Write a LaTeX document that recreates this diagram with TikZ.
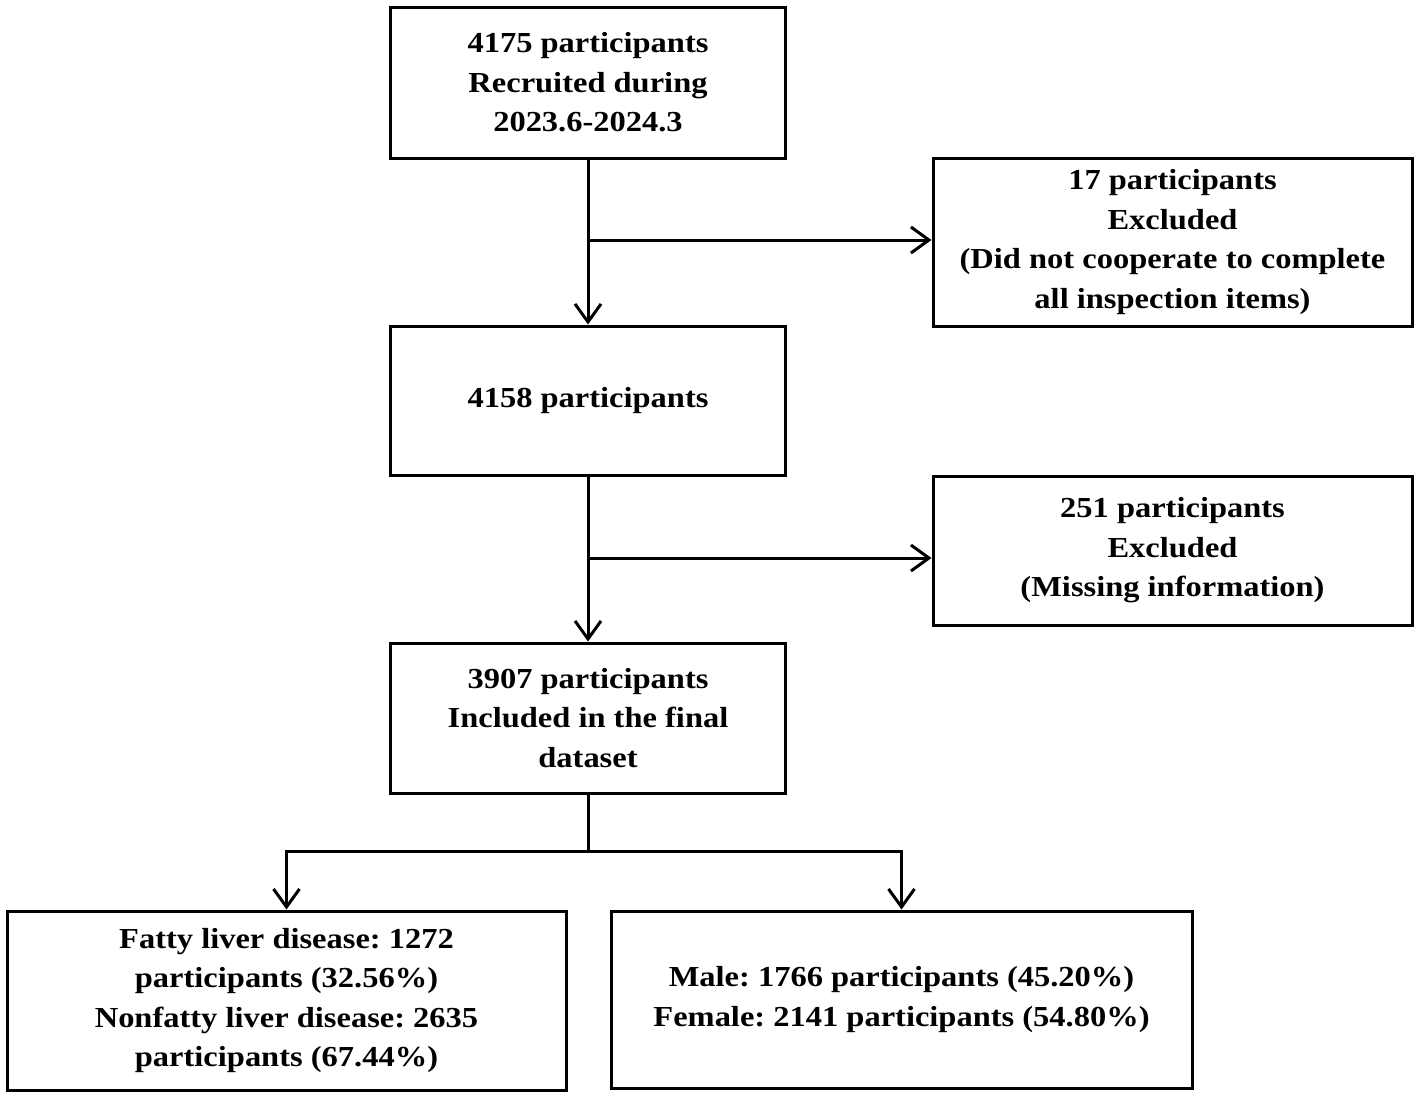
\documentclass[tikz,border=0pt]{standalone}
\usepackage{fontspec}
\setmainfont{Liberation Serif}[FakeStretch=1.12]
\usetikzlibrary{arrows.meta}
\begin{document}
\frenchspacing
\begin{tikzpicture}[x=1pt,y=-1pt,
  box/.style={draw,line width=3pt,align=center,inner sep=0pt,
    font=\fontsize{29}{39.5}\selectfont\bfseries},
  arr/.style={line width=3pt,-{Straight Barb[length=18pt,width=26pt,line width=3pt]}},
  ln/.style={line width=3pt}]
\useasboundingbox (0,0) rectangle (1418,1098);
\node[box,minimum width=395pt,minimum height=151pt] (b1) at (588,82.5) {4175 participants\\Recruited during\\2023.6-2024.3};
\node[box,minimum width=479pt,minimum height=168pt] (b2) at (1172.5,242) {17 participants\\Excluded\\(Did not cooperate to complete\\all inspection items)};
\node[box,minimum width=395pt,minimum height=149pt] (b3) at (588,400.5) {4158 participants};
\node[box,minimum width=479pt,minimum height=149pt] (b4) at (1172.5,550.5) {251 participants\\Excluded\\(Missing information)};
\node[box,minimum width=395pt,minimum height=150pt] (b5) at (588,718) {3907 participants\\Included in the final\\dataset};
\node[box,minimum width=559pt,minimum height=179pt] (b6) at (286.5,1000.5) {Fatty liver disease: 1272\\participants (32.56\%)\\Nonfatty liver disease: 2635\\participants (67.44\%)};
\node[box,minimum width=581pt,minimum height=177pt] (b7) at (901.5,999.5) {Male: 1766 participants (45.20\%)\\Female: 2141 participants (54.80\%)};
\coordinate (j1) at (588,240);
\coordinate (j2) at (588,558);
\coordinate (j3) at (588,851);
\draw[arr] (b1.south) -- (b3.north);
\draw[arr] (j1) -- (j1 -| b2.west);
\draw[arr] (b3.south) -- (b5.north);
\draw[arr] (j2) -- (j2 -| b4.west);
\draw[ln] (b5.south) -- (j3);
\draw[arr] (j3) -| (b6.north);
\draw[arr] (j3) -| (b7.north);
\end{tikzpicture}
\end{document}
